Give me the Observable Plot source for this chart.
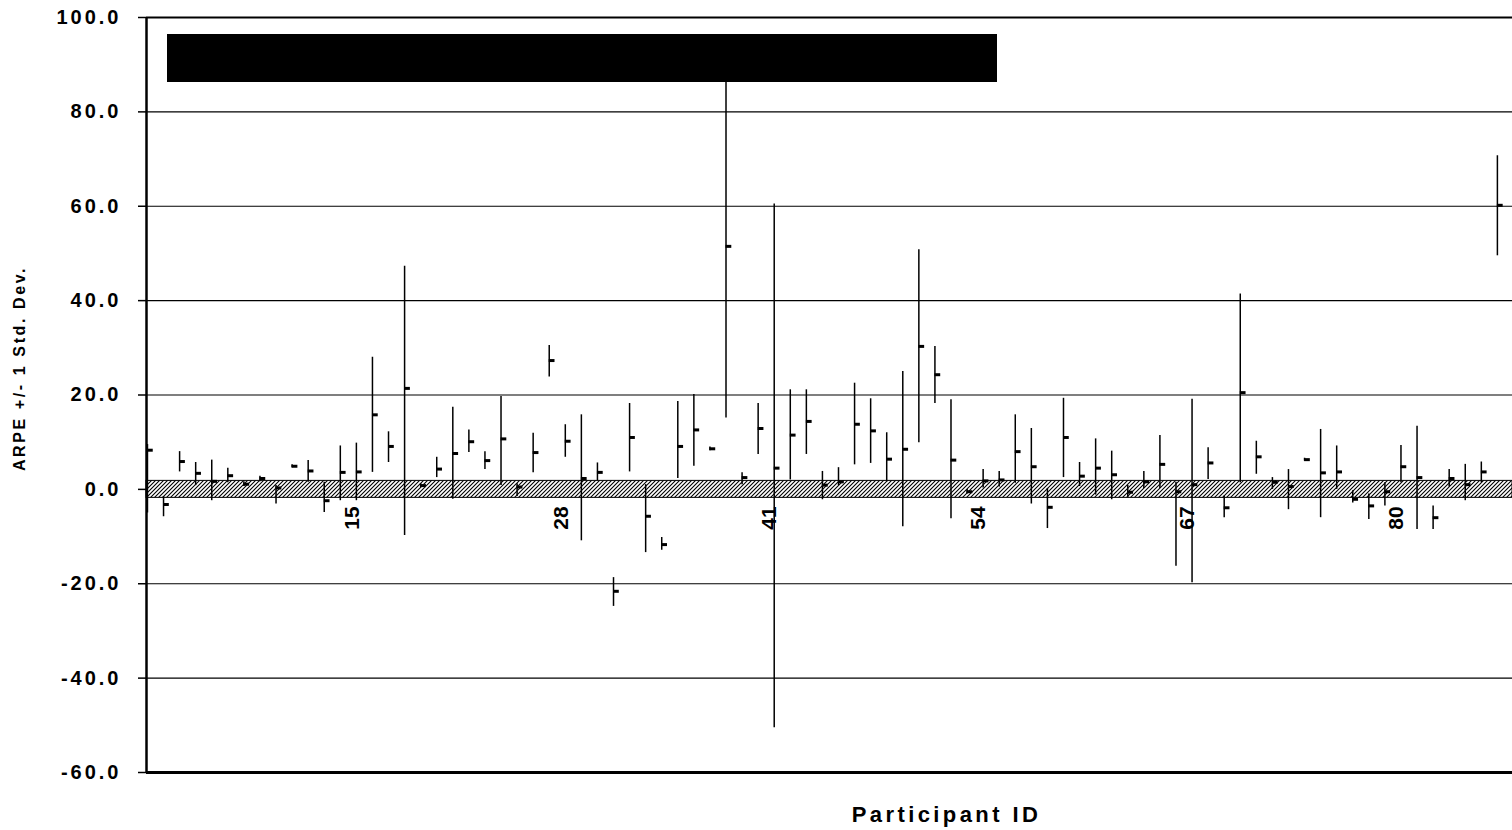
<!DOCTYPE html>
<html>
<head>
<meta charset="utf-8">
<script src="https://cdn.jsdelivr.net/npm/d3@7"></script>
<script src="https://cdn.jsdelivr.net/npm/@observablehq/plot@0.6"></script>
<style>
html, body { margin: 0; padding: 0; background: #fff; }
#wrap { position: relative; width: 1512px; height: 830px; overflow: hidden; }
#redact { position: absolute; left: 167px; top: 34px; width: 830px; height: 48px; background: #000; }
g[aria-label="y-axis tick label"] text { letter-spacing: 3px; }
</style>
</head>
<body>
<div id="wrap"><div id="chart"></div><div id="redact"></div></div>
<script>
// Participant IDs
const ids = [2,3,4,5,6,7,8,9,10,11,12,13,14,15,16,17,18,19,20,21,22,23,24,25,26,27,28,29,30,
  31,32,33,34,35,36,37,38,39,40,41,42,43,44,45,46,47,48,49,50,51,52,53,54,55,56,57,58,59,60,
  61,62,63,64,65,66,67,68,69,70,71,72,73,74,75,76,77,78,79,80,81,82,83,84,85,86];
// ARPE + 1 SD (high)
const highs = [9.5,-1.5,8.0,5.7,6.2,4.5,1.6,2.8,0.8,5.2,6.1,1.5,9.2,9.8,28.0,12.2,47.3,1.2,6.8,
  17.4,12.6,8.0,19.7,1.2,11.9,30.5,13.7,15.8,5.6,-18.7,18.2,1.0,-10.2,18.6,20.1,9.0,90.0,3.5,18.2,
  60.5,21.1,21.1,3.8,4.6,22.5,19.2,12.0,25.0,50.8,30.3,19.0,0.0,4.2,3.8,15.8,12.9,0.2,19.3,5.7,
  10.7,8.1,0.8,3.8,11.4,1.5,19.1,8.8,-1.4,41.4,10.2,2.5,4.2,6.6,12.7,9.2,-0.3,-1.0,1.4,9.3,
  13.4,-3.5,4.2,5.3,5.8,70.7];
// ARPE - 1 SD (low)
const lows = [-5.0,-5.8,3.7,0.8,-2.4,1.4,0.6,1.6,-3.1,4.6,1.5,-4.9,-2.4,-2.4,3.6,5.7,-9.8,0.4,2.5,
  -2.1,7.8,4.2,0.8,-1.5,3.5,23.8,6.8,-10.9,1.8,-24.8,3.7,-13.4,-12.9,2.3,4.9,8.2,15.1,1.0,7.4,
  -50.5,2.0,7.4,-2.2,0.8,5.2,5.5,1.6,-7.9,9.9,18.2,-6.2,-1.0,0.3,0.5,1.3,-3.1,-8.3,2.5,0.6,
  -1.2,-2.2,-1.8,0.2,0.2,-16.3,-19.8,2.1,-6.0,1.4,3.2,0.0,-4.3,6.0,-6.0,0.0,-2.9,-6.4,-3.5,1.4,
  -8.5,-8.5,0.5,-2.4,1.4,49.5];
// ARPE (mean)
const means = [8.3,-3.2,5.9,3.4,1.7,2.9,1.1,2.3,0.3,4.9,3.9,-2.4,3.6,3.7,15.8,9.1,21.4,0.8,4.3,
  7.6,10.1,6.1,10.7,0.5,7.8,27.3,10.2,2.3,3.6,-21.6,11.0,-5.7,-11.7,9.1,12.6,8.6,51.5,2.5,12.9,
  4.5,11.5,14.4,0.9,1.6,13.8,12.4,6.4,8.5,30.3,24.3,6.2,-0.5,1.8,2.0,8.0,4.8,-3.8,11.0,2.8,
  4.5,3.1,-0.6,1.6,5.3,-0.5,1.0,5.6,-3.9,20.5,6.9,1.5,0.6,6.3,3.5,3.7,-2.1,-3.5,-0.5,4.8,
  2.5,-6.0,2.3,1.0,3.7,60.2];

const xTickLabels = [15, 28, 41, 54, 67, 80];
const yTicks = [-60, -40, -20, 0, 20, 40, 60, 80, 100];
const bandLow = -1.8, bandHigh = 1.8;
const yTitle = "ARPE +/- 1 Std. Dev.";
const xTitle = "Participant ID";

const data = ids.map((id, i) => ({id, hi: highs[i], lo: lows[i], close: means[i]}));
const xDomain = [1.94, 86.94];
const band = [{x1: xDomain[0], x2: xDomain[1], y1: bandLow, y2: bandHigh}];

const plot = Plot.plot({
  width: 1512,
  height: 830,
  marginLeft: 146,
  marginRight: 0,
  marginTop: 17,
  marginBottom: 58,
  style: {fontFamily: "'Liberation Sans', Arial, sans-serif", fontWeight: "bold", fontSize: "20px", color: "#000", background: "#fff", overflow: "visible"},
  x: {type: "linear", domain: xDomain, axis: null},
  y: {domain: [-60, 100], axis: null},
  marks: [
    Plot.ruleY(yTicks, {y: d => d, stroke: "black", strokeWidth: d => d === 100 ? 2 : d === -60 ? 3 : 1.2}),
    Plot.rect(band, {x1: "x1", x2: "x2", y1: "y1", y2: "y2", fill: "url(#hatch)", stroke: "black", strokeWidth: 1}),
    Plot.ruleX([xDomain[0]], {x: d => d, y1: -60, y2: 100, stroke: "black", strokeWidth: 2.5}),
    Plot.ruleX(data, {x: "id", y1: "lo", y2: "hi", stroke: "black", strokeWidth: 1.5}),
    Plot.ruleY(data, {y: "close", x1: "id", x2: d => d.id + 0.36, stroke: "black", strokeWidth: 3}),
    Plot.axisY(yTicks, {tickFormat: d => d.toFixed(1), tickSize: 8, tickPadding: 17, fontSize: 20, fontWeight: "bold", label: null, strokeWidth: 1.5}),
    Plot.text(xTickLabels, {x: d => d, y: () => 0, text: d => String(d), rotate: -90, textAnchor: "end", lineAnchor: "middle", dy: 17, dx: -4.5, fontSize: 21, fontWeight: "bold", fill: "black"}),
    Plot.text([yTitle], {frameAnchor: "left", text: d => d, rotate: -90, textAnchor: "middle", dx: -127, dy: -26.5, lineAnchor: "middle", fontSize: 16, fontWeight: "bold", fill: "black"}),
    Plot.text([xTitle], {frameAnchor: "bottom", text: d => d, textAnchor: "middle", dx: 117, dy: 42, lineAnchor: "middle", fontSize: 22, fontWeight: "bold", fill: "black"})
  ]
});

d3.select(plot).insert("defs", ":first-child").html(
  '<pattern id="hatch" width="4" height="4" patternUnits="userSpaceOnUse">' +
  '<rect width="4" height="4" fill="#fff"/>' +
  '<path d="M-1,1 l2,-2 M0,4 l4,-4 M3,5 l2,-2" stroke="#000" stroke-width="1.1"/>' +
  '</pattern>'
);

d3.select(plot).selectAll("text")
  .filter(function() { return this.textContent === xTitle; })
  .style("letter-spacing", "3.4px");
d3.select(plot).selectAll("text")
  .filter(function() { return this.textContent === yTitle; })
  .style("letter-spacing", "2.6px");

document.getElementById("chart").appendChild(plot);
</script>
</body>
</html>
